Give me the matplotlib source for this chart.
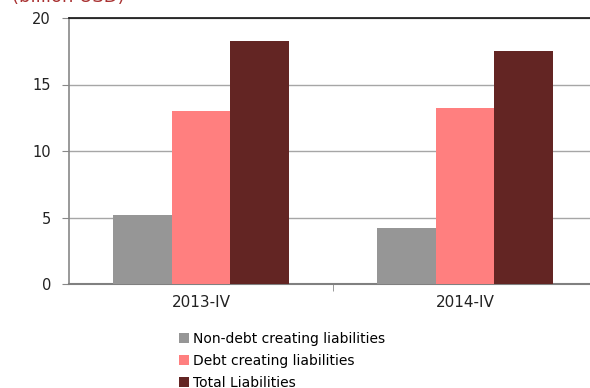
import matplotlib.pyplot as plt
import numpy as np

plt.rcParams['font.family'] = ['DejaVu Sans']

periods = ['2013-IV', '2014-IV']
series_names = ['Non-debt creating liabilities', 'Debt creating liabilities', 'Total Liabilities']
non_debt = [5.2, 4.2]
debt = [13.0, 13.2]
total = [18.3, 17.5]
colors = ['#969696', '#FF7F7F', '#632523']

fig = plt.figure(figsize=(5.9, 3.88), dpi=100)
ax = fig.add_axes([69 / 590, 1 - 284 / 388, 528 / 590, 266 / 388])

x = np.arange(len(periods))
w = 0.221
for i, (vals, name) in enumerate(zip([non_debt, debt, total], series_names)):
    ax.bar(x + (i - 1) * w, vals, w, color=colors[i], label=name, zorder=3)

ax.set_xlim(-0.5, 1.5)
ax.set_ylim(0, 20)
ax.set_yticks([0, 5, 10, 15, 20])
ax.yaxis.grid(True, color='#A6A6A6', linewidth=1.0, zorder=0)
ax.set_xticks(x)
ax.set_xticklabels(periods)
ax.set_xticks([0.5], minor=True)
ax.tick_params(axis='x', which='major', length=0, pad=8, labelsize=11, colors='#222222')
ax.tick_params(axis='x', which='minor', length=5, color='#888888')
ax.tick_params(axis='y', length=5, color='#888888', labelsize=10.5, labelcolor='#222222', pad=8)

ax.spines['right'].set_visible(False)
ax.spines['top'].set_color('#111111')
ax.spines['top'].set_linewidth(1.2)
ax.spines['left'].set_color('#888888')
ax.spines['left'].set_linewidth(1.2)
ax.spines['bottom'].set_color('#808080')
ax.spines['bottom'].set_linewidth(1.5)

fig.text(12 / 590, 1 - 2 / 388, '(billion USD)', color='#A93232', fontsize=13, va='baseline', ha='left')

fig.legend(loc='upper left', bbox_to_anchor=(172 / 590, 1 - 325 / 388), frameon=False,
           fontsize=10, handlelength=0.7, handleheight=0.7, handletextpad=0.3,
           labelspacing=0.58, borderpad=0)

fig.savefig('out.png', dpi=100)
